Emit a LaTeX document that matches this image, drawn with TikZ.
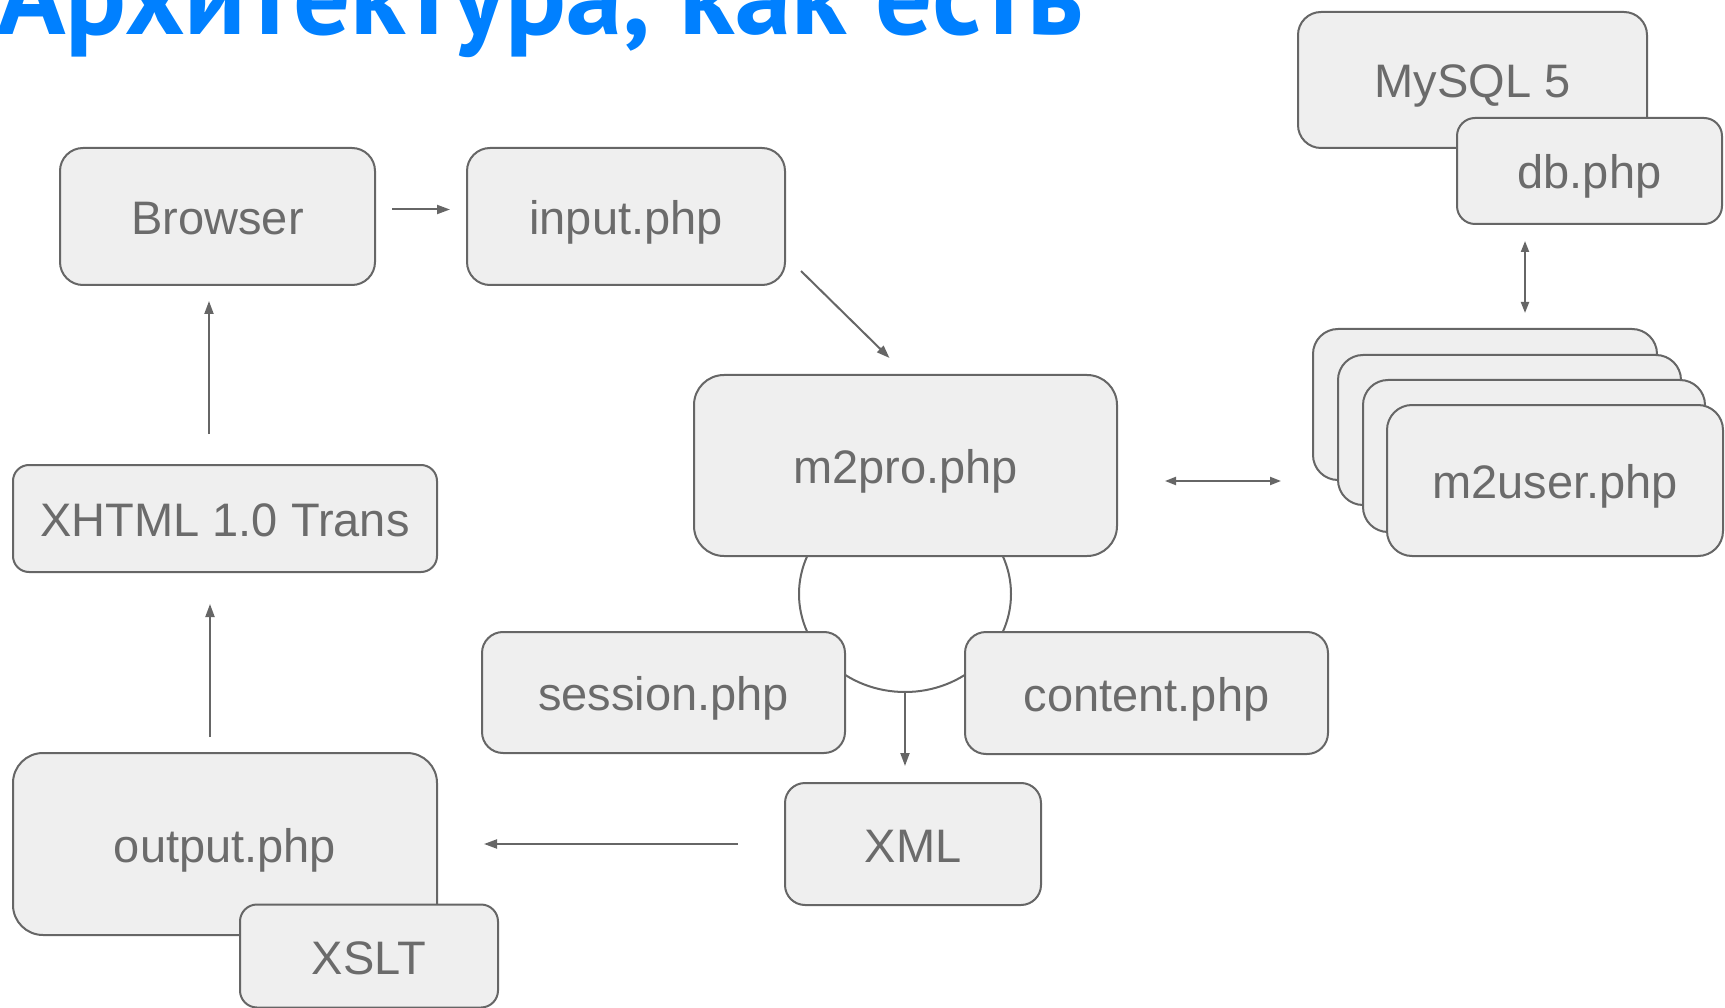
\documentclass[tikz,border=0pt]{standalone}
\usepackage{fontspec}
\setmainfont{Liberation Sans}
\newfontfamily\titlefont{PT Sans}
\usetikzlibrary{arrows.meta,shapes.geometric,calc}
\definecolor{boxfill}{HTML}{EFEFEF}
\definecolor{linec}{HTML}{666666}
\definecolor{textc}{HTML}{6B6B6B}
\definecolor{titlec}{HTML}{0080FF}
\begin{document}
\begin{tikzpicture}[x=1pt,y=-1pt,
  box/.style={draw=linec, fill=boxfill, line width=2pt, text=textc, inner sep=0pt,
    font=\fontsize{47}{47}\selectfont, text height=40pt, text depth=4pt, align=center},
  ring/.style={draw=linec, line width=2pt, ellipse, inner sep=0pt},
  arr/.style={draw=linec, line width=2pt, -{Triangle[length=13pt,width=9pt]}},
  arrb/.style={draw=linec, line width=2pt, {Triangle[length=11pt,width=8pt]}-{Triangle[length=11pt,width=8pt]}},
]
\useasboundingbox (0,0) rectangle (1725,1008);

% title
\node[anchor=base west, inner sep=0pt, text=titlec] (title) at (-3,35)
  {\resizebox{1086pt}{!}{\titlefont\bfseries\fontsize{80}{80}\selectfont Архитектура, как есть}};

% ring behind the boxes
\node[ring, minimum width=212pt, minimum height=196pt] (ring) at (905,594) {};

% boxes
\node[box, minimum width=315pt, minimum height=137pt, rounded corners=23pt] (browser) at (217.5,216.5) {Browser};
\node[box, minimum width=318pt, minimum height=137pt, rounded corners=23pt] (input) at (626,216.5) {input.php};
\node[box, minimum width=423pt, minimum height=181pt, rounded corners=30pt] (m2pro) at (905.5,465.5) {m2pro.php};
\node[box, minimum width=363pt, minimum height=121pt, rounded corners=21pt] (session) at (663.5,692.5) {session.php};
\node[box, minimum width=363pt, minimum height=122pt, rounded corners=21pt] (content) at (1146.5,693) {content.php};
\node[box, minimum width=256pt, minimum height=122pt, rounded corners=20pt] (xml) at (913,844) {XML};
\node[box, minimum width=424pt, minimum height=107pt, rounded corners=16pt] (xhtml) at (225,518.5) {XHTML 1.0 Trans};
\node[box, minimum width=424pt, minimum height=182pt, rounded corners=30pt] (output) at (225,844) {output.php};
\node[box, minimum width=258pt, minimum height=103pt, rounded corners=17pt] (xslt) at (369,956) {XSLT};
\node[box, minimum width=349pt, minimum height=136pt, rounded corners=23pt] (mysql) at (1472.5,80) {MySQL 5};
\node[box, minimum width=265pt, minimum height=106pt, rounded corners=18pt] (db) at (1589.5,171) {db.php};
\node[box, minimum width=344pt, minimum height=151pt, rounded corners=25pt] (u1) at (1485,404.5) {};
\node[box, minimum width=343pt, minimum height=150pt, rounded corners=25pt] (u2) at (1509.5,430) {};
\node[box, minimum width=342pt, minimum height=152pt, rounded corners=25pt] (u3) at (1534,456) {};
\node[box, minimum width=336pt, minimum height=151pt, rounded corners=25pt] (u4) at (1555,480.5) {m2user.php};

% connectors
\draw[arr] ([xshift=16pt,yshift=7pt]browser.east) -- ([xshift=-16pt,yshift=7pt]input.west);
\draw[arr] ([xshift=15pt,yshift=15pt]input.south east) -- ([xshift=-16pt,yshift=16pt]m2pro.north);
\draw[arrb] ([xshift=47pt,yshift=-15.5pt]m2pro.east) coordinate (a1) -- ($(a1 -| u1.west)+(-31,0)$);
\draw[arrb] ([xshift=-64.5pt,yshift=-16pt]db.south) coordinate (b1) -- ($(b1 |- u1.north)+(0,-15)$);
\draw[arr] (ring.south) -- ($(ring.south |- xml.north)+(0,-16)$);
\draw[arr] ([xshift=-46pt]xml.west) -- ([xshift=46pt]output.east);
\draw[arr] ([xshift=-15pt,yshift=15pt]output.north) -- ([xshift=-15pt,yshift=-31pt]xhtml.south);
\draw[arr] ([xshift=-16pt,yshift=30pt]xhtml.north) -- ([xshift=-8.5pt,yshift=-15pt]browser.south);
\end{tikzpicture}
\end{document}
